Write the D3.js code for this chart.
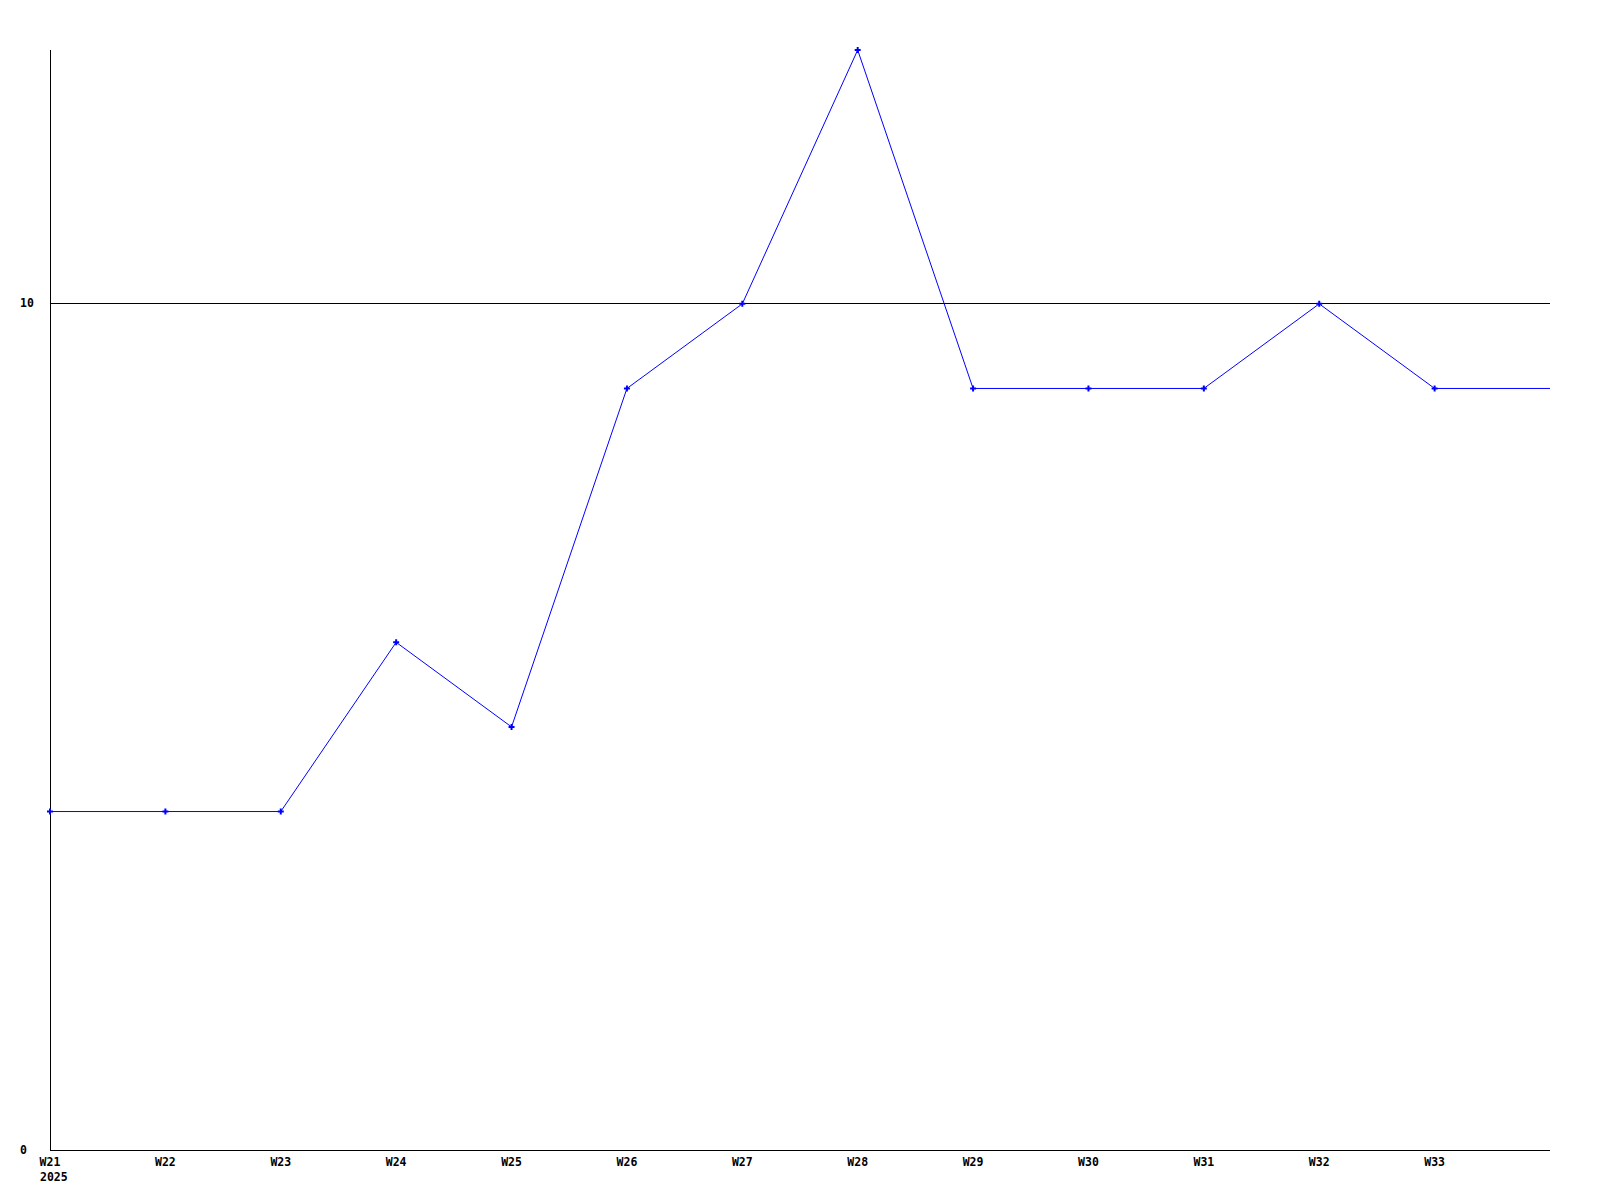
<!DOCTYPE html>
<html><head><meta charset="utf-8">
<script src="https://cdn.jsdelivr.net/npm/d3@7"></script>
<style>html,body{margin:0;padding:0;background:#fff;}svg{display:block;}</style>
</head><body>
<script>
const categories = ["W21","W22","W23","W24","W25","W26","W27","W28","W29","W30","W31","W32","W33","W34"];
const values = [4,4,4,6,5,9,10,13,9,9,9,10,9,9];
const tickLabels = ["W21","W22","W23","W24","W25","W26","W27","W28","W29","W30","W31","W32","W33"];
const yTicks = [0,10];
const yearLabel = "2025";

const W=1600,H=1200;
const svg=d3.select("body").append("svg").attr("width",W).attr("height",H);
const x=d3.scalePoint().domain(categories).range([50,1550]);
const y=d3.scaleLinear().domain([0,13]).range([1150,50]);
const font="'DejaVu Sans Mono', 'Liberation Mono', monospace";

// grid lines
svg.selectAll("line.grid").data(yTicks.filter(d=>d>0)).enter().append("line")
 .attr("x1",50).attr("x2",1550).attr("y1",d=>Math.floor(y(d))+0.5).attr("y2",d=>Math.floor(y(d))+0.5)
 .attr("stroke","#000").attr("stroke-width",1);
// axes
svg.append("line").attr("x1",50.5).attr("x2",50.5).attr("y1",50).attr("y2",1150).attr("stroke","#000");
svg.append("line").attr("x1",50).attr("x2",1550).attr("y1",1150.5).attr("y2",1150.5).attr("stroke","#000");

// y labels
svg.selectAll("text.yl").data(yTicks).enter().append("text")
 .attr("x",20).attr("y",d=>Math.floor(y(d))+4).text(d=>d)
 .attr("font-family",font).attr("font-weight","bold").attr("font-size",11.5).attr("fill","#000");
// x labels
svg.selectAll("text.xl").data(tickLabels).enter().append("text")
 .attr("x",d=>x(d)).attr("y",1166).attr("text-anchor","middle").text(d=>d)
 .attr("font-family",font).attr("font-weight","bold").attr("font-size",11.5).attr("fill","#000");
svg.append("text").attr("x",40).attr("y",1181).text(yearLabel)
 .attr("font-family",font).attr("font-weight","bold").attr("font-size",11.5).attr("fill","#000");

// line
const data=categories.map((c,i)=>({c,v:values[i]}));
svg.append("path").datum(data)
 .attr("d",d3.line().x(d=>x(d.c)).y(d=>y(d.v)))
 .attr("fill","none").attr("stroke","#0000ff").attr("stroke-width",1);
svg.selectAll("path.m").data(data.filter(d=>tickLabels.includes(d.c))).enter().append("path")
 .attr("transform",d=>`translate(${x(d.c)},${y(d.v)})`)
 .attr("d",d3.symbol().type(d3.symbolCross).size(20))
 .attr("fill","#0000ff");
</script>
</body></html>
